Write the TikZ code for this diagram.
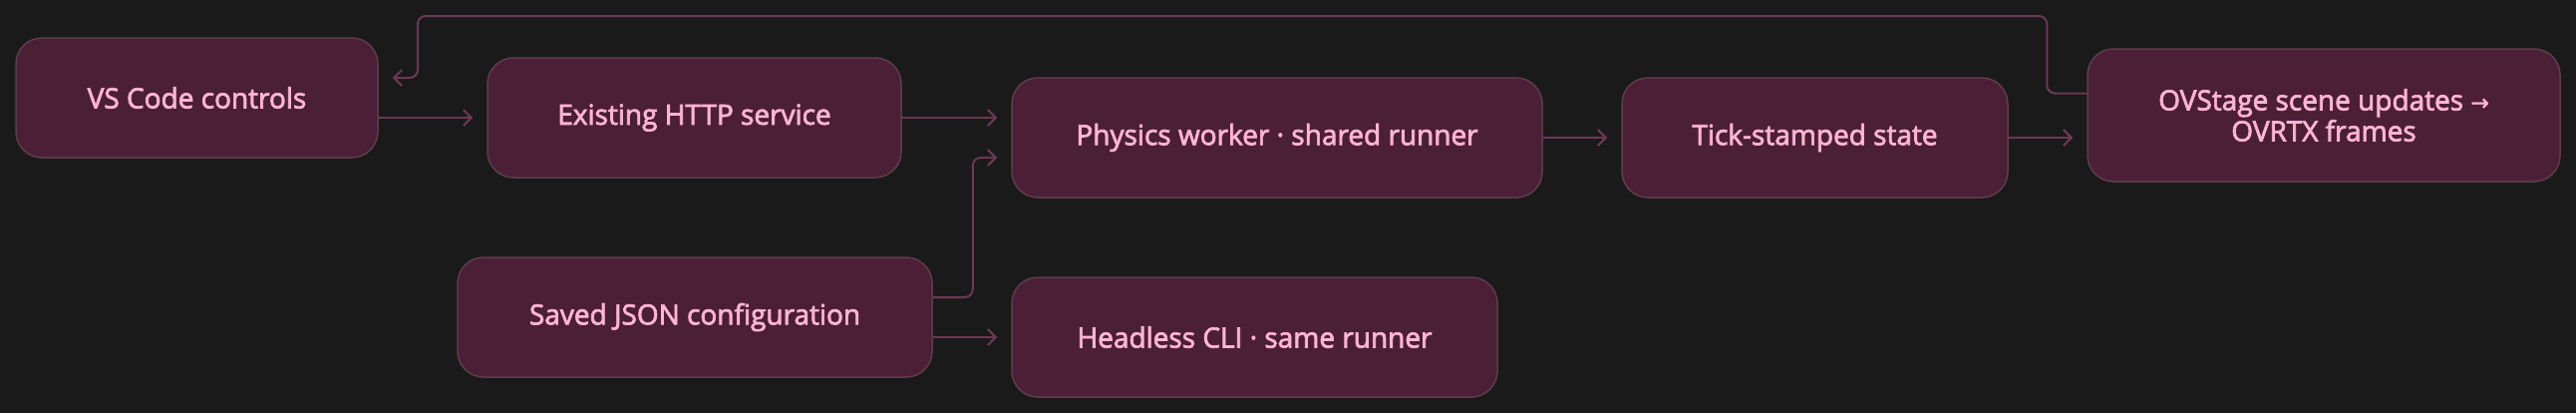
\documentclass[tikz,border=0pt]{standalone}
\usepackage{fontspec}
\setmainfont{Open Sans}[FakeBold=2.5]
\newfontfamily\symfont{DejaVu Sans}[FakeBold=1.5]
\usetikzlibrary{arrows.meta}
\definecolor{bgdark}{HTML}{1A1A1A}
\definecolor{boxfill}{HTML}{4B1F35}
\definecolor{boxline}{HTML}{5E3D4C}
\definecolor{boxtext}{HTML}{FFB4D6}
\definecolor{wire}{HTML}{6B3A52}
\begin{document}
\begin{tikzpicture}[x=0.5pt, y=-0.5pt,
  font=\fontsize{14}{15.5}\selectfont,
  stage/.style={draw=boxline, line width=0.75pt, fill=boxfill, text=boxtext,
    rounded corners=13pt, minimum height=60pt, inner sep=0pt, align=center},
  wirearrow/.style={draw=wire, line width=1pt, rounded corners=4pt,
    -{Straight Barb[length=4pt, width=8pt]}, shorten >=7pt}]

  % Background and page size
  \fill[bgdark] (0,0) rectangle (2584,414);
  \useasboundingbox (0,0) rectangle (2584,414);

  % Boxes (centres and widths in pixels of the reference)
  \node[stage, minimum width=181.5pt] (vs)   at (197.5,98)  {VS Code controls};
  \node[stage, minimum width=207.5pt] (http) at (696.5,118) {Existing HTTP service};
  \node[stage, minimum width=238pt]   (json) at (697,318)   {Saved JSON configuration};
  \node[stage, minimum width=266pt]   (phys) at (1281,138)  {Physics worker · shared runner};
  \node[stage, minimum width=193.5pt] (tick) at (1820.5,138) {Tick-stamped state};
  \node[stage, minimum width=243.5pt] (cli)  at (1258.5,338) {Headless CLI · same runner};
  \node[stage, minimum width=237pt, minimum height=66.5pt] (ov) at (2331,115.5)
    {OVStage scene updates {\symfont\fontsize{11}{15.5}\selectfont →}\\OVRTX frames};

  % Forward connectors
  \draw[wirearrow] (vs.east |- http.west) -- (http.west);
  \draw[wirearrow] (http.east) -- (http.east -| phys.west);
  \draw[wirearrow] ([yshift=10pt]json.east) -- ++(20pt,0) |- ([yshift=-10pt]phys.west);
  \draw[wirearrow] (json.east |- cli.west) -- (cli.west);
  \draw[wirearrow] (phys.east) -- (tick.west);
  \draw[wirearrow] (tick.east) -- (tick.east -| ov.west);

  % Feedback loop back to the controls
  \coordinate (loop) at (419,16);
  \draw[wirearrow] ([yshift=11pt]ov.west) -- ++(-20pt,0) |- (loop) |- ([yshift=10pt]vs.east);

\end{tikzpicture}
\end{document}
